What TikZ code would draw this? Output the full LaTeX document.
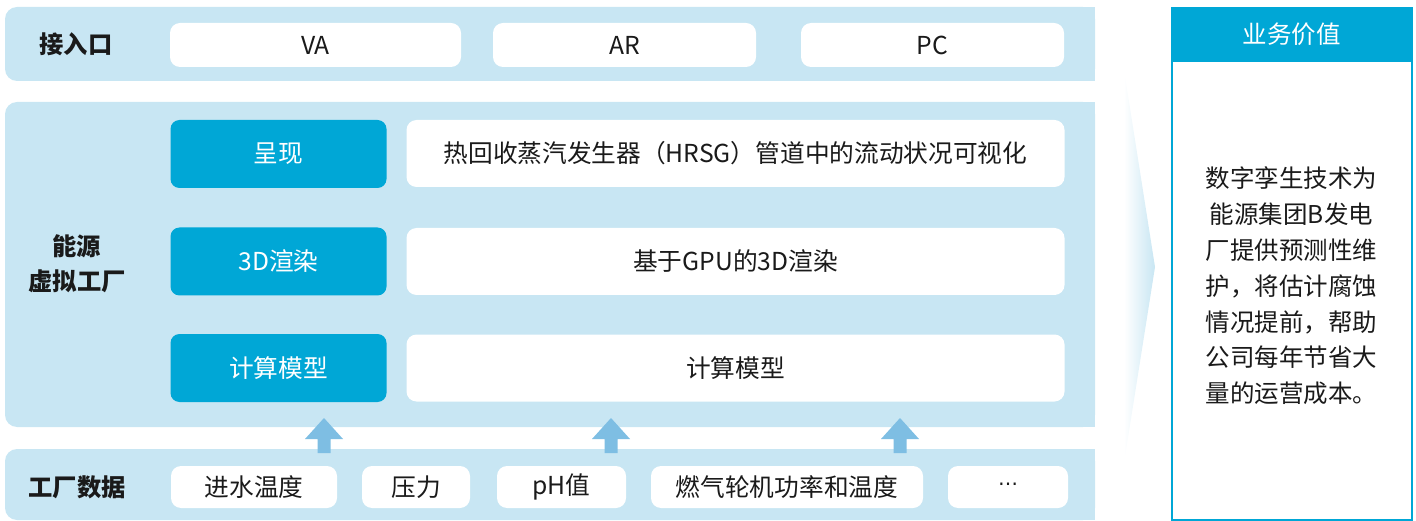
\documentclass[tikz,border=0pt]{standalone}
\usepackage{fontspec}
\setmainfont{Noto Sans CJK SC}
\newfontfamily\djv{DejaVu Sans}
\usetikzlibrary{shadings}
\definecolor{band}{HTML}{C8E6F3}
\definecolor{dark}{HTML}{00A7D6}
\definecolor{arrowc}{HTML}{7EBEE3}
\definecolor{ink}{HTML}{1A1A1A}
\tikzset{
  bandbox/.style={fill=band,draw=none},
  wbox/.style={fill=white,draw=none,rounded corners=10pt,inner sep=0pt,text=ink,font=\fontsize{24.7}{30}\selectfont},
  dbox/.style={fill=dark,draw=none,rounded corners=9pt,inner sep=0pt,text=white,font=\fontsize{24.7}{30}\selectfont},
  lbl/.style={inner sep=0pt,text=ink,font=\fontsize{24.3}{30}\selectfont\bfseries,align=center},
  uparrow/.style={fill=arrowc,draw=none}
}
\begin{document}
\begin{tikzpicture}[x=1pt,y=-1pt]
\useasboundingbox (0,0) rectangle (1416,521);
% bands
\fill[bandbox,rounded corners=12pt] (5,7) rectangle (1095,81);
\fill[bandbox] (1050,7) rectangle (1095,81);
\fill[bandbox,rounded corners=12pt] (5,102) rectangle (1095,427);
\fill[bandbox] (1050,102) rectangle (1095,427);
\fill[bandbox,rounded corners=12pt] (5,449) rectangle (1095,520);
\fill[bandbox] (1050,449) rectangle (1095,520);
% row 1
\node[lbl] (l1) at (76,44) {接入口};
\node[wbox,minimum width=291pt,minimum height=44pt] (va) at (315.5,45) {VA};
\node[wbox,minimum width=263pt,minimum height=44pt] (ar) at (624.5,45) {AR};
\node[wbox,minimum width=263pt,minimum height=44pt] (pc) at (932.5,45) {PC};
% row 2
\node[lbl] (l2) at (77,264) {能源\\[5pt]虚拟工厂};
\node[dbox,minimum width=216pt,minimum height=68pt] (d1) at (278.5,154) {呈现};
\node[wbox,minimum width=658pt,minimum height=67pt] (w1) at (735.5,153.5) {热回收蒸汽发生器（HRSG）管道中的流动状况可视化};
\node[dbox,minimum width=216pt,minimum height=68pt] (d2) at (278.5,261.5) {3D渲染};
\node[wbox,minimum width=658pt,minimum height=67pt] (w2) at (735.5,261.5) {基于GPU的3D渲染};
\node[dbox,minimum width=216pt,minimum height=68pt] (d3) at (278.5,368) {计算模型};
\node[wbox,minimum width=658pt,minimum height=67pt] (w3) at (735.5,368) {计算模型};
% row 3
\node[lbl] (l3) at (77,487) {工厂数据};
\node[wbox,minimum width=166pt,minimum height=42pt] (b1) at (254,487) {进水温度};
\node[wbox,minimum width=108pt,minimum height=42pt] (b2) at (416,487) {压力};
\node[wbox,minimum width=129pt,minimum height=42pt] (b3) at (561.5,487) {pH值};
\node[wbox,minimum width=272pt,minimum height=42pt] (b4) at (787,487) {燃气轮机功率和温度};
\node[wbox,minimum width=120pt,minimum height=42pt,font=\djv\fontsize{20}{24}\selectfont] (b5) at (1008,487) {⋯};
% arrows
\foreach \cx/\nm in {324/a1,611/a2,900/a3}{
  \coordinate (\nm) at (\cx,418);
  \fill[uparrow] (\nm) -- ++(19,21) -- ++(-12.5,0) -- ++(0,14) -- ++(-13,0) -- ++(0,-14) -- ++(-12.5,0) -- cycle;
}
% chevron
\shade[left color=white,right color=band] (1124,70) -- (1155,267) -- (1124,463) -- cycle;
% right panel
\node[draw=dark,line width=2pt,fill=white,minimum width=240pt,minimum height=512pt,inner sep=0pt] (rp) at (1291.5,264) {};
\node[fill=dark,minimum width=240pt,minimum height=55pt,inner sep=0pt,anchor=north,text=white,font=\fontsize{24.5}{28}\selectfont] (rh) at (rp.north) {业务价值};
\node[inner sep=0pt,text=ink,align=center,font=\fontsize{24.5}{35.8}\selectfont] (rt) at (1291.5,286) {数字孪生技术为\\能源集团B发电\\厂提供预测性维\\护，将估计腐蚀\\情况提前，帮助\\公司每年节省大\\量的运营成本。};
\end{tikzpicture}
\end{document}
